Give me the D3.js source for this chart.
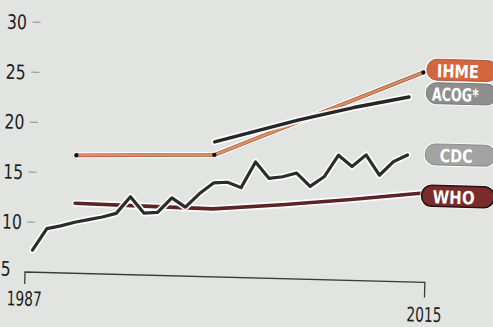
<!DOCTYPE html>
<html><head><meta charset="utf-8">
<script src="https://cdn.jsdelivr.net/npm/d3@7"></script>
<style>
html,body{margin:0;padding:0;background:#e1e4e1;}
svg{display:block;}
text{font-family:"Liberation Sans Narrow","DejaVu Sans Condensed","Roboto",sans-serif;}
</style></head>
<body><svg id="c" width="493" height="327"></svg>
<script>
// ---- data ----
const yTickValues = [5, 10, 15, 20, 25, 30];
const xTickLabels = ["1987", "2015"];
const cdcYears = [1987,1988,1989,1990,1991,1992,1993,1994,1995,1996,1997,1998,1999,2000,2001,2002,2003,2004,2005,2006,2007,2008,2009,2010,2011,2012,2013,2014];
const cdcValues = [7.2,9.4,9.7,10.1,10.4,10.7,11.1,12.8,11.2,11.3,12.8,11.9,13.3,14.4,14.5,14.0,16.6,15.0,15.2,15.6,14.3,15.3,17.5,16.4,17.6,15.6,17.0,17.7];
const ihmeYears = [1990, 2000, 2015];
const ihmeValues = [16.8, 17.2, 26.0];
const acogYears = [2000, 2002, 2004, 2006, 2008, 2010, 2012, 2014];
const acogValues = [18.5, 19.3, 20.1, 20.9, 21.6, 22.3, 22.9, 23.5];
const whoYears = [1990, 1995, 2000, 2005, 2010, 2015];
const whoValues = [12.0, 11.9, 11.8, 12.4, 13.1, 13.9];
const seriesNames = ["IHME", "ACOG*", "CDC", "WHO"];

// ---- layout / styles ----
const svg = d3.select("#c");
svg.append("rect").attr("width",493).attr("height",327).attr("fill","#e1e4e1");
const g = svg.append("g").attr("transform","translate(25,272) rotate(1.5)");
const x = d3.scaleLinear().domain([1987, 2016]).range([0, 400]);
const y = d3.scaleLinear().domain([5, 30]).range([0, -250]);
const line = d3.line().x(d => x(d[0] + 0.5)).y(d => y(d[1]));

// y axis labels + ticks
yTickValues.forEach(v => {
  g.append("text").attr("x", -24.5).attr("y", y(v) + (v === 5 ? -3 : 0))
    .attr("dy","0.36em").attr("font-size", 20).attr("fill","#1d1d1d")
    .attr("textLength", String(v).length * 10).attr("lengthAdjust","spacingAndGlyphs")
    .text(v);
  if (v !== 5) g.append("line").attr("x1", 1).attr("x2", 9).attr("y1", y(v)).attr("y2", y(v))
    .attr("stroke","#9a9c9a").attr("stroke-width",1.2);
});

// x axis
g.append("path")
  .attr("d", `M${x(1987)},12 V0 H${x(2016)} V15`)
  .attr("fill","none").attr("stroke","#3a3a3a").attr("stroke-width",1.3);
g.append("text").attr("x", x(1987)).attr("y", 26.5).attr("dy","0.36em").attr("text-anchor","middle")
  .attr("font-size",20).attr("fill","#1d1d1d").attr("textLength",35).attr("lengthAdjust","spacingAndGlyphs")
  .text(xTickLabels[0]);
g.append("text").attr("x", x(2016)).attr("y", 32).attr("dy","0.36em").attr("text-anchor","middle")
  .attr("font-size",20).attr("fill","#1d1d1d").attr("textLength",35).attr("lengthAdjust","spacingAndGlyphs")
  .text(xTickLabels[1]);

function zip(a, b){ return a.map((d,i) => [d, b[i]]); }
const whoData = zip(whoYears, whoValues);
const ihmeData = zip(ihmeYears, ihmeValues);
const acogData = zip(acogYears, acogValues);
const cdcData = zip(cdcYears, cdcValues);

function drawLine(data, color, w, edge){
  g.append("path").attr("d", line(data)).attr("fill","none").attr("stroke","#ffffff")
    .attr("stroke-width", w + 3.5).attr("stroke-linejoin","round").attr("stroke-linecap","round").attr("opacity",0.9);
  if (edge) g.append("path").attr("d", line(data)).attr("fill","none").attr("stroke", edge)
    .attr("stroke-width", w + 1.2).attr("stroke-linejoin","round");
  g.append("path").attr("d", line(data)).attr("fill","none").attr("stroke", color)
    .attr("stroke-width", w).attr("stroke-linejoin","round").attr("stroke-linecap","round");
}
drawLine(whoData, "#5e2325", 3.6);
drawLine(cdcData, "#2c2c2c", 3.2);
drawLine(ihmeData, "#dc8d63", 2.6, "#9a5a3c");
ihmeData.forEach(d => g.append("circle").attr("cx", x(d[0]+0.5)).attr("cy", y(d[1])).attr("r", 2.2).attr("fill","#111"));
drawLine(acogData, "#262626", 3.4);

// label pills
const pillFill = ["#d4663d", "#8d8e8d", "#a2a3a2", "#7a2c2d"];
const pillLast = [ihmeValues[ihmeValues.length-1], acogValues[acogValues.length-1], cdcValues[cdcValues.length-1], whoValues[whoValues.length-1]];
const pillNudge = [-3, -4.5, -1.3, 2.2];
const pillX0 = [396.5, 396.5, 397, 394.5];
const textW = [42, 47, 33, 42];
const textDx = [31, 29, 31, 32];
seriesNames.forEach((name, i) => {
  const cy = y(pillLast[i]) + pillNudge[i];
  const x0 = pillX0[i], w = 467 - x0, h = 21;
  g.append("rect").attr("x", x0 - 1.5).attr("y", cy - h/2 - 1.5).attr("width", w + 3).attr("height", h + 3)
    .attr("rx", 11.5).attr("fill","#ffffff").attr("opacity",0.85);
  g.append("rect").attr("x", x0).attr("y", cy - h/2).attr("width", w).attr("height", h)
    .attr("rx", 10).attr("fill", pillFill[i]).attr("stroke", i === 3 ? "#2a1010" : d3.color(pillFill[i]).darker(0.8)).attr("stroke-width", i === 3 ? 1.6 : 0.8);
  g.append("text").attr("x", x0 + textDx[i]).attr("y", cy + 1).attr("dy","0.36em").attr("text-anchor","middle")
    .attr("font-size", 18).attr("font-weight","bold").attr("fill","#ffffff")
    .attr("textLength", textW[i]).attr("lengthAdjust","spacingAndGlyphs").text(name);
});
</script></body></html>
